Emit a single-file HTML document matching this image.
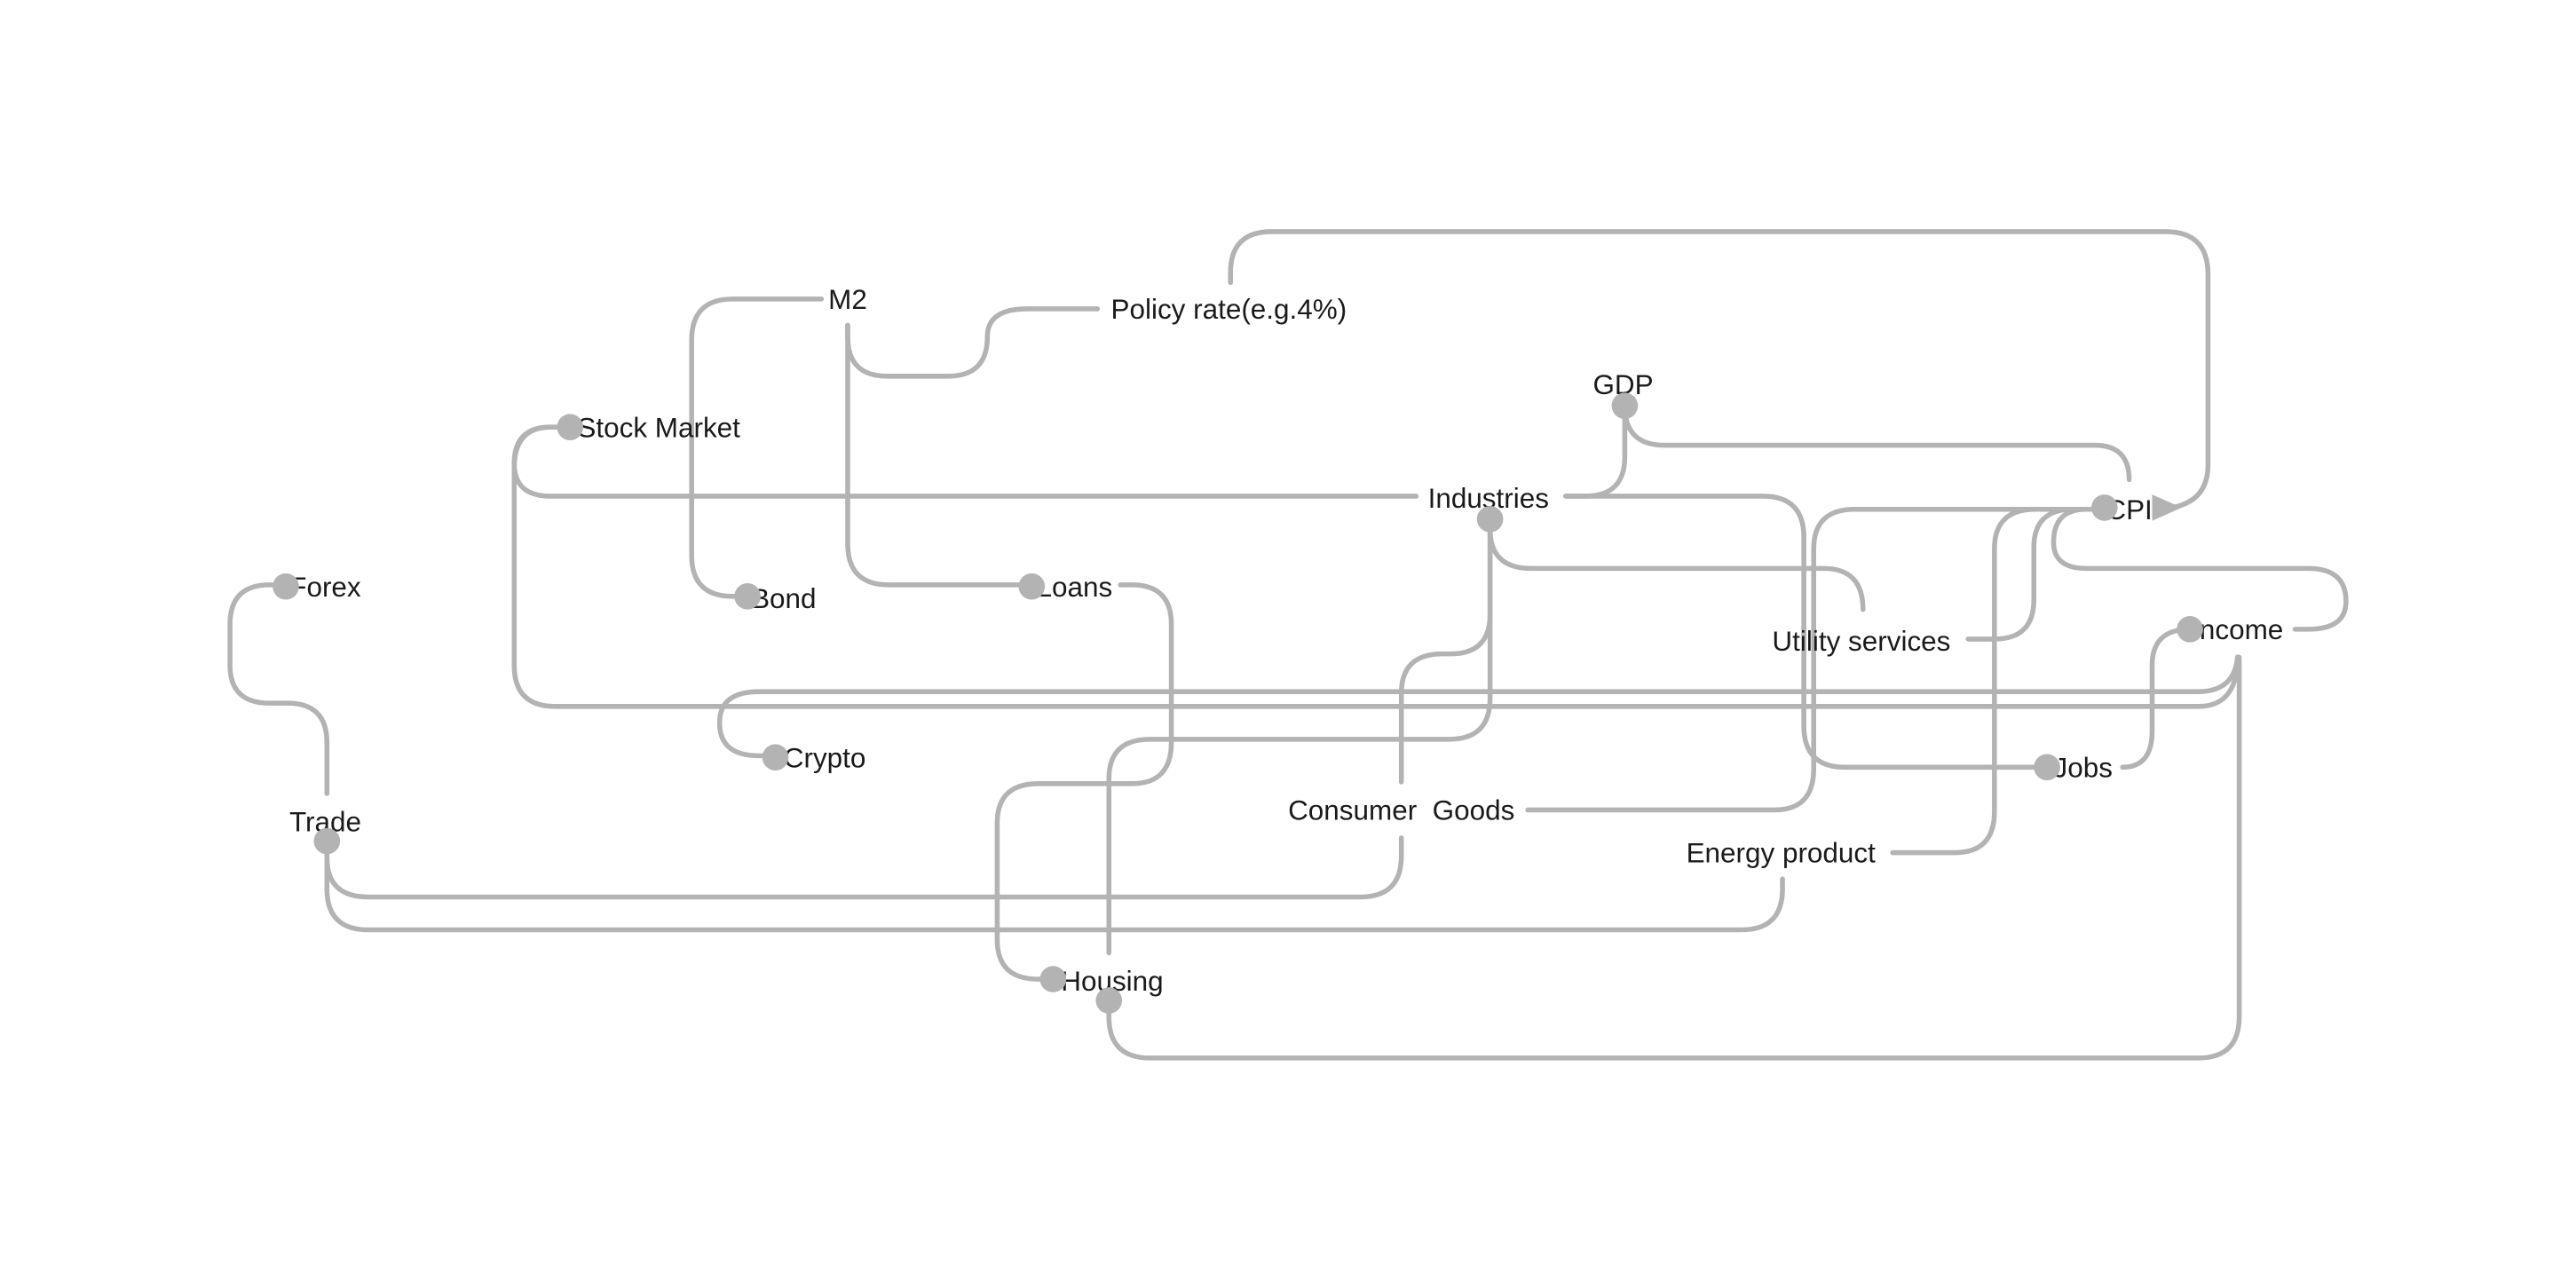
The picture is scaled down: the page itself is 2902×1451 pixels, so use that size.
<!DOCTYPE html>
<html><head><meta charset="utf-8"><style>
html,body{margin:0;padding:0;background:#fff;}
svg{display:block;}
text{font-family:"Liberation Sans",sans-serif;font-size:17px;fill:#1a1a1a;}
</style></head><body>
<svg width="2902" height="1451" viewBox="0 0 1568 784" xmlns="http://www.w3.org/2000/svg">
<rect width="1568" height="784" fill="#fff"/>
<g fill="none" stroke="#b3b3b3" stroke-width="3" stroke-linecap="round">
<path d="M749,172 V166 Q749,141 774,141 H1318 Q1344,141 1344,167 V283 Q1344,305 1322,309"/>
<path d="M500,182 H446 Q421,182 421,207 V338 Q421,363 446,363 H455"/>
<path d="M516,198 V205 Q516,229 540,229 H577 Q601,229 601,205 Q601,188 625,188 H668"/>
<path d="M516,198 V331 Q516,356 541,356 H628"/>
<path d="M347,260 H335 Q313,260 313,282 Q313,302 335,302 H862"/>
<path d="M335,260 Q313,260 313,285 V405 Q313,430 338,430 H1338 Q1362,430 1362,400"/>
<path d="M472,460 H462 Q438,460 438,440 Q438,421 462,421 H1338 Q1360,421 1362,400"/>
<path d="M174,356 H164 Q140,356 140,380 V405 Q140,428 164,428 H175 Q199,428 199,452 V483"/>
<path d="M199,512 V522 Q199,546 224,546 H828 Q853,546 853,521 V510"/>
<path d="M199,512 V541 Q199,566 224,566 H1060 Q1085,566 1085,541 V535"/>
<path d="M682,356 H689 Q713,356 713,380 V452 Q713,477 689,477 H632 Q607,477 607,501 V572 Q607,596 632,596 H641"/>
<path d="M675,609 V619 Q675,644 700,644 H1338 Q1363,644 1363,619 V400"/>
<path d="M675,580 V474 Q675,450 700,450 H882 Q907,450 907,425 V316"/>
<path d="M907,316 V374 Q907,398 883,398 H878 Q853,398 853,422 V476"/>
<path d="M907,316 V322 Q907,346 932,346 H1110 Q1134,346 1134,371"/>
<path d="M953,302 H965 Q989,302 989,278 V247"/>
<path d="M989,247 Q989,271 1013,271 H1275 Q1296,271 1296,292"/>
<path d="M953,302 H1073 Q1098,302 1098,327 V442 Q1098,467 1123,467 H1246"/>
<path d="M930,493 H1080 Q1104,493 1104,468 V334 Q1104,310 1129,310 H1281"/>
<path d="M1152,519 H1190 Q1214,519 1214,494 V334 Q1214,310 1239,310 H1281"/>
<path d="M1198,389 H1214 Q1238,389 1238,365 V333 Q1238,310 1262,310 H1281"/>
<path d="M1281,310 H1270 Q1250,310 1250,330 Q1250,346 1270,346 H1405 Q1428,346 1428,366 Q1428,383 1405,383 H1397"/>
<path d="M1292,467 Q1310,467 1310,445 V405 Q1310,383 1333,383"/>
</g>
<polygon points="1310,301 1328,309 1310,317" fill="#b3b3b3"/>
<g text-anchor="middle">
<text x="516" y="188">M2</text>
<text x="748" y="194">Policy rate(e.g.4%)</text>
<text x="401" y="266">Stock Market</text>
<text x="988" y="240">GDP</text>
<text x="906" y="309">Industries</text>
<text x="1296" y="316">CPI</text>
<text x="198" y="363">Forex</text>
<text x="477" y="370">Bond</text>
<text x="654" y="363">Loans</text>
<text x="1133" y="396">Utility services</text>
<text x="1362" y="389">Income</text>
<text x="502" y="467">Crypto</text>
<text x="1268" y="473">Jobs</text>
<text x="198" y="506">Trade</text>
<text x="853" y="499" xml:space="preserve">Consumer  Goods</text>
<text x="1084" y="525">Energy product</text>
<text x="677" y="603">Housing</text>
</g>
<g fill="#b3b3b3">
<circle cx="347" cy="260" r="8"/><circle cx="174" cy="357" r="8"/><circle cx="455" cy="363" r="8"/>
<circle cx="628" cy="357" r="8"/><circle cx="472" cy="461" r="8"/><circle cx="199" cy="512" r="8"/>
<circle cx="641" cy="596" r="8"/><circle cx="675" cy="609" r="8"/><circle cx="907" cy="316" r="8"/>
<circle cx="989" cy="247" r="8"/><circle cx="1281" cy="309" r="8"/><circle cx="1333" cy="383" r="8"/>
<circle cx="1246" cy="467" r="8"/>
</g>
</svg>
</body></html>
